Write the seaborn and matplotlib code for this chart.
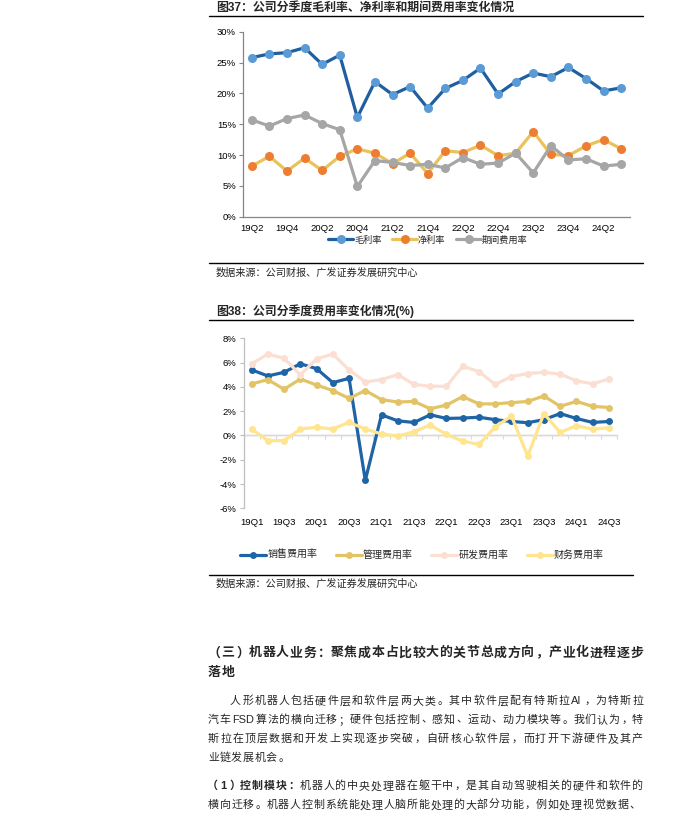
import re
import numpy as np
import pandas as pd
import matplotlib
matplotlib.use("Agg")
import matplotlib.pyplot as plt
import seaborn as sns
from matplotlib.lines import Line2D
from matplotlib.ticker import FuncFormatter

# ---------------- data ----------------
quarters1 = ['19Q2', '19Q3', '19Q4', '20Q1', '20Q2', '20Q3', '20Q4', '21Q1', '21Q2', '21Q3', '21Q4',
             '22Q1', '22Q2', '22Q3', '22Q4', '23Q1', '23Q2', '23Q3', '23Q4', '24Q1', '24Q2', '24Q3']
gross_margin = [25.8, 26.4, 26.6, 27.4, 24.7, 26.2, 16.1, 21.9, 19.8, 21.1, 17.6,
                20.8, 22.1, 24.1, 19.9, 21.9, 23.3, 22.7, 24.2, 22.4, 20.4, 20.9]
net_margin = [8.2, 9.8, 7.4, 9.5, 7.5, 9.8, 11.0, 10.3, 8.6, 10.3, 7.0,
              10.7, 10.4, 11.6, 9.9, 10.3, 13.8, 10.1, 9.9, 11.5, 12.5, 11.0]
period_expense = [15.7, 14.7, 15.9, 16.5, 15.1, 14.1, 4.9, 9.1, 8.8, 8.3, 8.5,
                  7.9, 9.6, 8.5, 8.7, 10.3, 7.1, 11.5, 9.2, 9.4, 8.2, 8.5]
names1 = ['毛利率', '净利率', '期间费用率']

quarters2 = ['19Q1', '19Q2', '19Q3', '19Q4', '20Q1', '20Q2', '20Q3', '20Q4', '21Q1', '21Q2', '21Q3', '21Q4',
             '22Q1', '22Q2', '22Q3', '22Q4', '23Q1', '23Q2', '23Q3', '23Q4', '24Q1', '24Q2', '24Q3']
sales_rate = [5.4, 4.9, 5.2, 5.9, 5.5, 4.35, 4.7, -3.7, 1.7, 1.2, 1.07, 1.7,
              1.4, 1.43, 1.5, 1.3, 1.15, 1.05, 1.3, 1.8, 1.4, 1.07, 1.15]
admin_rate = [4.24, 4.6, 3.8, 4.65, 4.15, 3.7, 3.05, 3.7, 2.95, 2.75, 2.8, 2.2,
              2.5, 3.2, 2.6, 2.6, 2.7, 2.8, 3.25, 2.4, 2.8, 2.4, 2.3]
rnd_rate = [5.9, 6.7, 6.35, 5.0, 6.3, 6.7, 5.4, 4.4, 4.6, 5.0, 4.2, 4.05,
            4.05, 5.7, 5.25, 4.2, 4.85, 5.1, 5.2, 5.05, 4.5, 4.25, 4.65]
finance_rate = [0.53, -0.43, -0.43, 0.53, 0.67, 0.53, 1.08, 0.53, 0.12, -0.05, 0.3, 0.86,
                0.08, -0.47, -0.74, 0.7, 1.6, -1.7, 1.8, 0.25, 0.8, 0.52, 0.63]
names2 = ['销售费用率', '管理费用率', '研发费用率', '财务费用率']

title1 = '图37：公司分季度毛利率、净利率和期间费用率变化情况'
title2 = '图38：公司分季度费用率变化情况(%)'
source_text = '数据来源：公司财报、广发证券发展研究中心'

heading_lines = ['（三）机器人业务：聚焦成本占比较大的关节总成方向，产业化进程逐步', '落地']
para_lines = ['人形机器人包括硬件层和软件层两大类。其中软件层配有特斯拉AI，为特斯拉',
              '汽车FSD算法的横向迁移；硬件包括控制、感知、运动、动力模块等。我们认为，特',
              '斯拉在顶层数据和开发上实现逐步突破，自研核心软件层，而打开下游硬件及其产',
              '业链发展机会。']
para2_bold = '（1）控制模块：'
para2_lines = ['机器人的中央处理器在躯干中，是其自动驾驶相关的硬件和软件的',
               '横向迁移。机器人控制系统能处理人脑所能处理的大部分功能，例如处理视觉数据、']

# ---------------- style ----------------
sns.set_theme(style='white')
plt.rcParams['font.family'] = ['Liberation Sans', 'Noto Sans CJK SC', 'DejaVu Sans']
plt.rcParams['axes.unicode_minus'] = False

W, H = 676, 814
fig = plt.figure(figsize=(W / 100, H / 100), dpi=100)
fig.patch.set_facecolor('white')


def fx(x):
    return x / W


def fy(y):
    return 1 - y / H


pct = FuncFormatter(lambda v, p: f'{v:.0f}%')

# ---------------- chart 1 ----------------
df1 = pd.DataFrame({'quarter': quarters1, names1[0]: gross_margin,
                    names1[1]: net_margin, names1[2]: period_expense})
ax1 = fig.add_axes([fx(243), fy(216.7), fx(630) - fx(243), fy(31.7) - fy(216.7)])
styles1 = [(names1[0], '#1F5F9F', '#5B9BD5'),
           (names1[1], '#E9C35A', '#ED7D31'),
           (names1[2], '#A6A6A6', '#A6A6A6')]
for name, lc, mc in styles1:
    sns.lineplot(data=df1, x='quarter', y=name, ax=ax1, color=lc, lw=2.3, sort=False,
                 marker='o', markersize=6.5, markerfacecolor=mc, markeredgecolor=mc,
                 markeredgewidth=0, label=name)
n1 = len(quarters1)
ax1.set_xlim(-0.5, n1 - 0.5)
ax1.set_ylim(0, 30)
ax1.set_yticks(np.arange(0, 31, 5))
ax1.yaxis.set_major_formatter(pct)
ax1.set_xticks(np.arange(0, n1, 2))
ax1.set_xticklabels(quarters1[::2])
ax1.set_xticks(np.arange(-0.5, n1, 1), minor=True)
ax1.set_xlabel('')
ax1.set_ylabel('')
for s in ['top', 'right']:
    ax1.spines[s].set_visible(False)
for s in ['left', 'bottom']:
    ax1.spines[s].set_color('#868686')
    ax1.spines[s].set_linewidth(0.9)
ax1.tick_params(axis='x', which='major', length=0, pad=5, labelsize=6.8, colors='#000000')
ax1.tick_params(axis='x', which='minor', length=3, width=0.8, color='#868686', direction='out')
ax1.tick_params(axis='y', length=3, width=0.8, color='#868686', labelsize=6.8, pad=2,
                labelcolor='#000000', left=True)
ax1.legend(loc='center', bbox_to_anchor=(fx(428), fy(240)), bbox_transform=fig.transFigure,
           ncol=3, frameon=False, fontsize=6.6, handlelength=2.7, handletextpad=0.1,
           columnspacing=1.2, borderaxespad=0, borderpad=0)

# ---------------- chart 2 ----------------
df2 = pd.DataFrame({'quarter': quarters2, names2[0]: sales_rate, names2[1]: admin_rate,
                    names2[2]: rnd_rate, names2[3]: finance_rate})
ax2 = fig.add_axes([fx(243.5), fy(508.3), fx(617) - fx(243.5), fy(338.3) - fy(508.3)])
styles2 = [(names2[0], '#1F64A4'), (names2[1], '#E2C467'),
           (names2[2], '#FADFD2'), (names2[3], '#FFE58F')]
ax2.axhline(0, color='#D9D9D9', lw=1.0, zorder=0.5)
for name, c in styles2:
    sns.lineplot(data=df2, x='quarter', y=name, ax=ax2, color=c, lw=2.3, sort=False,
                 marker='o', markersize=5, markerfacecolor=c, markeredgecolor=c,
                 markeredgewidth=0, label=name)
n2 = len(quarters2)
ylo, yhi = -6, 8
ax2.set_xlim(-0.5, n2 - 0.5)
ax2.set_ylim(ylo, yhi)
ax2.set_yticks(np.arange(ylo, yhi + 1, 2))
ax2.yaxis.set_major_formatter(pct)
ax2.set_xticks(np.arange(0, n2, 2))
ax2.set_xticklabels(quarters2[::2])
ax2.set_xlabel('')
ax2.set_ylabel('')
for s in ['top', 'right', 'bottom']:
    ax2.spines[s].set_visible(False)
ax2.spines['left'].set_color('#BFBFBF')
ax2.spines['left'].set_linewidth(0.9)
ax2.tick_params(axis='x', which='major', length=0, pad=7, labelsize=6.8, colors='#000000')
ax2.tick_params(axis='y', length=3, width=0.8, color='#BFBFBF', labelsize=6.8, pad=2,
                labelcolor='#000000', left=True)
sec = ax2.secondary_xaxis((0 - ylo) / (yhi - ylo))
sec.set_xticks(np.arange(-0.5, n2, 1))
sec.set_xticklabels([])
sec.spines['bottom'].set_color('#D9D9D9')
sec.spines['bottom'].set_linewidth(1.0)
sec.tick_params(axis='x', length=3, width=0.8, color='#D9D9D9', direction='out')
ax2.legend(loc='center', bbox_to_anchor=(fx(422), fy(555)), bbox_transform=fig.transFigure,
           ncol=4, frameon=False, fontsize=7.2, handlelength=2.6, handletextpad=0.15,
           columnspacing=1.8, borderaxespad=0, borderpad=0)

# ---------------- titles, rules, sources ----------------
fig.text(fx(216), fy(7.5), title1, fontsize=8.6, weight='bold', va='center', ha='left',
         family=['Liberation Sans', 'Noto Sans CJK SC'])
fig.text(fx(216), fy(311), title2, fontsize=8.6, weight='bold', va='center', ha='left',
         family=['Liberation Sans', 'Noto Sans CJK SC'])
fig.text(fx(216), fy(273), source_text, fontsize=7.3, va='center', ha='left',
         family=['Noto Sans CJK SC'])
fig.text(fx(216), fy(584), source_text, fontsize=7.3, va='center', ha='left',
         family=['Noto Sans CJK SC'])
for (xa, xb, yy) in [(209, 643, 15.7), (209, 643, 263), (209, 633, 320), (209, 633, 575)]:
    fig.add_artist(Line2D([fx(xa), fx(xb)], [fy(yy), fy(yy)], transform=fig.transFigure,
                          color='black', lw=1.0))

# ---------------- body text (justified) ----------------
renderer = fig.canvas.get_renderer()
body_family = ['Liberation Sans', 'Noto Sans CJK SC']
LEFT_PUNCT = '，。；、：！？）」』'
RIGHT_PUNCT = '（「『'


def is_cjk(tok):
    return len(tok) == 1 and ord(tok) > 0x2E80


def token_width(tok, size, weight):
    em = size * 100 / 72
    if is_cjk(tok):
        return em
    t = fig.text(0, 0, tok, fontsize=size, weight=weight, family=body_family)
    w = t.get_window_extent(renderer).width + em * 0.12
    t.remove()
    return w


def draw_line(segments, x0, x1, y, size, justify=True):
    em = size * 100 / 72
    toks = []
    for txt, wt in segments:
        for tok in re.findall(r'[A-Za-z0-9]+|.', txt):
            toks.append((tok, wt))
    widths = [token_width(t, size, w) for t, w in toks]
    total = sum(widths)
    extra = (x1 - x0 - total) / (len(toks) - 1) if (justify and len(toks) > 1) else 0.6
    yb = y + 0.38 * em
    x = x0
    for (tok, wt), w in zip(toks, widths):
        if is_cjk(tok):
            if tok in LEFT_PUNCT:
                xp, ha = x + 0.08 * em, 'left'
            elif tok in RIGHT_PUNCT:
                xp, ha = x + w - 0.08 * em, 'right'
            else:
                xp, ha = x + w / 2, 'center'
        else:
            xp, ha = x + 0.06 * em, 'left'
        fig.text(fx(xp), fy(yb), tok, fontsize=size, weight=wt, va='baseline', ha=ha,
                 family=body_family)
        x += w + extra


draw_line([(heading_lines[0], 'bold')], 208, 643, 651.5, 9.3)
draw_line([(heading_lines[1], 'bold')], 208, 643, 671.5, 9.3, justify=False)
para_y = [700, 718.5, 737.5, 756.5]
for i, line in enumerate(para_lines):
    x0 = 230 if i == 0 else 208
    draw_line([(line, 'normal')], x0, 643, para_y[i], 7.9, justify=(i < len(para_lines) - 1))
draw_line([(para2_bold, 'bold'), (para2_lines[0], 'normal')], 208, 643, 785, 7.9)
draw_line([(para2_lines[1], 'normal')], 208, 640, 804, 7.9)

fig.savefig('out.png', dpi=100, facecolor='white')
